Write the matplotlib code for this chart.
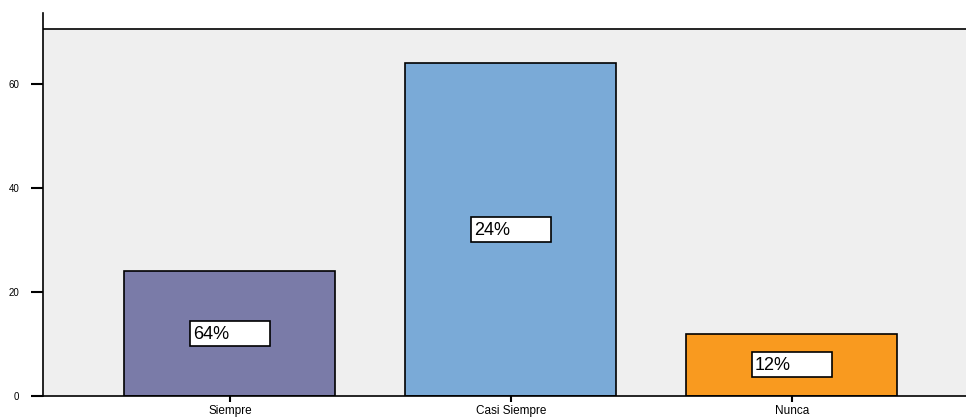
import matplotlib.pyplot as plt
import matplotlib.transforms as mtransforms
from matplotlib.patches import Rectangle

plt.rcParams['font.family'] = ['Liberation Sans', 'DejaVu Sans']

categories = ['Siempre', 'Casi Siempre', 'Nunca']
counts = [24, 64, 12]
box_labels = ['64%', '24%', '12%']
bar_colors = ['#7a7ba8', '#7aaad7', '#f99a1f']
y_ticks = [0, 20, 40, 60]

fig = plt.figure(figsize=(9.66, 4.17), dpi=100)
ax = fig.add_axes([43 / 966, 21 / 417, 1 - 43 / 966, 383 / 417])

x = list(range(len(categories)))
panel_top = 70.6

ax.set_xlim(-0.665, 2.62)
ax.set_ylim(0, 73.7)
ax.set_facecolor('white')
ax.axhspan(0, panel_top, color='#efefef', zorder=0)
ax.axhline(panel_top, color='black', lw=1.2, zorder=1)

ax.bar(x, counts, width=0.75, color=bar_colors, edgecolor='black',
       linewidth=1.2, zorder=2)

# white label boxes, fixed size in inches, centred at half height of each bar
for xi, h, lab in zip(x, counts, box_labels):
    trans = fig.dpi_scale_trans + mtransforms.ScaledTranslation(xi, h / 2, ax.transData)
    ax.add_patch(Rectangle((-0.4, -0.125), 0.8, 0.25, transform=trans,
                           facecolor='white', edgecolor='black', lw=1.2,
                           zorder=3, clip_on=False))
    ax.text(-0.37, -0.005, lab, transform=trans, ha='left', va='center',
            fontsize=13, zorder=4)

for side in ['top', 'right']:
    ax.spines[side].set_visible(False)
for side in ['left', 'bottom']:
    ax.spines[side].set_linewidth(1.2)

ax.set_yticks(y_ticks)
ax.tick_params(axis='y', direction='out', length=9, width=1.5, labelsize=7, pad=8)
ax.set_xticks(x)
ax.set_xticklabels(categories)
ax.tick_params(axis='x', direction='out', length=4, width=1.5, labelsize=8.5, pad=2.5)

fig.savefig('out.png', dpi=100)
